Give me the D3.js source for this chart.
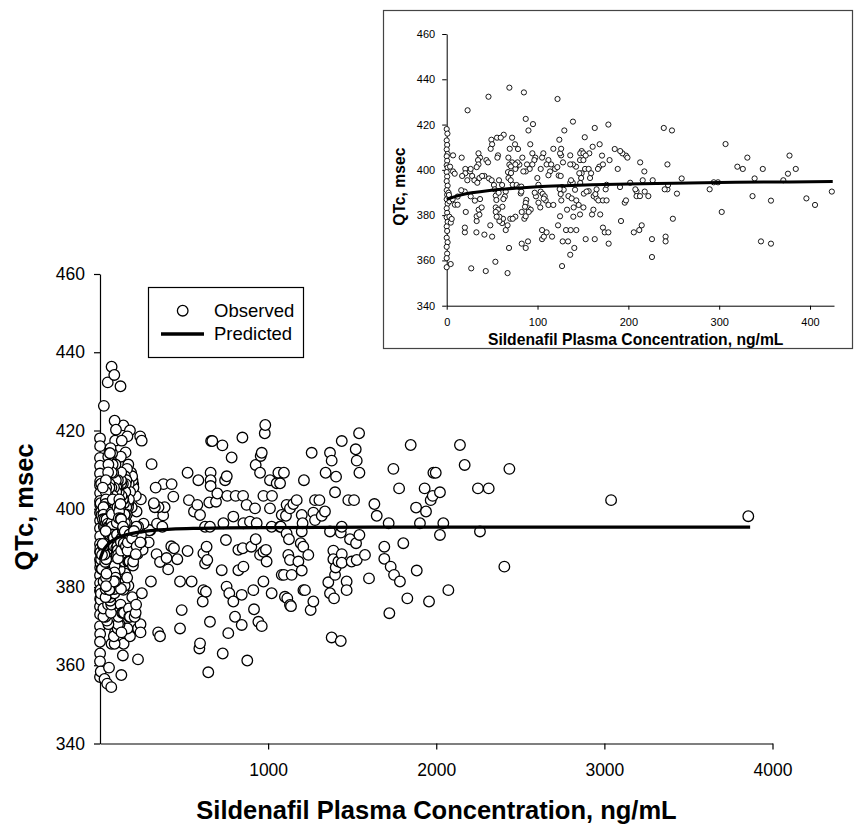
<!DOCTYPE html>
<html>
<head>
<meta charset="utf-8">
<script src="https://cdn.jsdelivr.net/npm/d3@7"></script>
<style>
  html, body { margin: 0; padding: 0; background: #fff; }
  svg { display: block; }
  text { font-family: "Liberation Sans", Arial, Helvetica, sans-serif; fill: #000; }
</style>
</head>
<body>
<svg id="chart" width="854" height="824"></svg>
<script>
// ---------------- DATA ----------------
// Observed QTc (msec) vs sildenafil plasma concentration (ng/mL), concentrations up to ~425
const observedLow = [
  [0,418],[0.8,416],[0,413],[0.5,411],[0,409],[1,407],[0,406],[0.5,404],[0,402],[1,401],
  [0,399],[0.5,397],[0,395],[1,393],[0,391],[0.5,389],[0,387],[1,385],[0,383],[0.5,381],
  [0,379],[1,377],[0,375],[0.5,373],[0,370],[1,368],[0,366],[0.5,363],[0,361],[0,357],
  [2,389.9],[3,386.1],[2.5,388.9],[6.5,387],[4.5,376.7],[3,379.3],[4.4,358.4],[9,384.6],[5.5,378.3],[12,384.6],
  [3.7,401.4],[7,406.4],[7,399.3],[8.8,398.3],
  [23,426.3],[46,432.3],[69,436.3],[85,434.2],[122,431.3],[139,421.3],[87,422.5],[95,420.2],[178,420],[163,418.5],
  [239,418.5],[248,417.4],[90,417.4],[129.5,417.4],
  [27,356.5],[43,355.3],[53.6,359.4],[67,354.4],[127,357.5],[136,362.5],[226,361.5],[140.5,365.5],[68.6,365.5],[87,365.5],
  [89.5,368.4],[82.6,367.4],[133.6,368.4],[178.3,367.4],[226,369.4],[241,370.5],[241,368.4],[346,368.4],[357,367.4],[153,369.4],
  [163,369.4],[116,370.5],[105,369.4],[107,370.5],[105,373.4],[110,372.4],[50,370.5],[41.5,371.4],[32.7,372.4],[20,372.4],
  [20,374.5],[48,375.5],[65,373.4],[67,375.5],[61,376.5],[62,378.4],[58,377.4],[70,378.4],[75.6,379.3],[72.7,378.4],
  [85.5,378.4],[87,379.5],[33,377.4],[33,379.5],[122.6,375.5],[131.4,373.4],[136.5,373.4],[142.7,373.4],[127.7,368.4],[172,374.5],
  [174,372.4],[178,372.4],[191.9,377.4],[206,372.4],[212,373.4],[214.7,375.5],[249,378.4],[302.8,381.4],[160,380.3],[169,380.3],
  [139.4,379.3],[146.8,380.3],[132.5,382.4],[124.8,379.5],[139.8,383.4],[145.3,384.5],[150.5,383.4],[103,383.4],[101,385.5],[109,386.5],
  [112,384.5],[117.4,384.5],[126.2,386.5],[134,388.4],[137.6,387.4],[142.7,386.5],[151,389.5],[156.3,390.6],[161.8,388.4],[165,387.4],
  [167,386.5],[172,386.5],[176,386.5],[175,391.4],[161.5,382.4],[196,385.5],[197.4,386.5],[209,390.5],[207.7,391.4],[209,388.4],
  [222,388.4],[253.5,389.5],[289.5,391.4],[298.7,394.5],[294,394.5],[336.7,388.4],[357,386.4],[396,387.4],[405.5,384.5],[424,390.4],
  [258.7,396.2],[339,396.2],[370.6,395.4],[375.7,398.3],[384.3,400.4],[377.4,406.3],[348,400.4],[326,400.4],[320,401.4],[331,405.4],
  [307,411.4],[243,402.4],[243,391.4],[243.7,393.3],[226.8,395.4],[215.8,395.4],[213,403.3],[217.6,399.3],[197.4,406.3],[199,405.4],
  [193.4,407.3],[188.3,400.4],[185,409.2],[191,408.3],[171,406.3],[179.3,404.3],[168,401.4],[166.5,400.4],[172,402.4],[168.4,411.3],
  [160.7,410.2],[148.6,408.3],[147,407.3],[150.5,407.3],[157,407.3],[153,406.3],[152,414.4],[146.8,404.3],[150.5,404.3],[152.3,400.4],
  [156.3,400.4],[157.8,396.4],[159,398.5],[148.6,398.5],[148,396.4],[142.4,401.4],[146,398.5],[139,402.4],[136,402.4],[136,406.4],
  [126,406.4],[124.8,407.3],[128,403.3],[117.4,409.3],[126,409.3],[124,413.3],[112,404.3],[110,402.4],[106.4,407.3],[105,405.4],
  [97.6,405.4],[96.5,404.3],[94.3,407.3],[88.4,402.4],[94.3,402.4],[92,411.3],[91.4,400.4],[87,399.3],[84.4,399.3],[83.3,405.4],
  [78.5,409.2],[75.2,411.3],[69.4,409.3],[67.9,405.4],[72,403.3],[69,402.3],[70.8,401.5],[76.3,401.2],[75.6,400.4],[80,402.3],
  [78,403.3],[72,414.2],[62.8,415.5],[55.4,414.2],[49.2,413.3],[50,411.3],[48.4,409.3],[43.7,404.3],[45.5,403.3],[56.5,406.4],
  [55.8,405.4],[59.5,414.2],[36.7,405.4],[35,407.3],[34.5,404.3],[35,402.4],[33,401.2],[25.7,399.3],[26.4,400.4],[20.5,400.4],
  [16.5,405.4],[20.5,398.5],[17,397.3],[22.7,395.4],[28,397.3],[30.5,395.4],[36,396.4],[41.5,397.3],[39,397.3],[46.6,396.2],
  [49.5,395.4],[52,393.3],[52.8,391.4],[54,388.6],[54.7,386.7],[57.2,389.9],[57.6,395.4],[61,393.3],[65,390.4],[64,388.2],
  [62.4,387.1],[54,383.4],[56.5,382.4],[54,381.4],[58,379.3],[55,379.3],[61.3,383.7],[68,396.4],[70.5,395.4],[72.7,393.4],
  [77,393.3],[80,392.4],[67.5,399],[70.8,398.6],[75.6,402.4],[81.5,389.6],[82.2,390.4],[82.2,392.6],[87.7,386.7],[87,385.4],
  [90,383],[86.2,383.7],[92.5,382.4],[90.3,381.4],[82.6,381.4],[98.3,388.3],[96.9,389.9],[103.5,390.4],[105.7,389.4],[107.9,388.3],
  [106.8,387.3],[101,393.4],[99.8,396.4],[103.5,400.4],[119.3,400.4],[113.8,399.3],[112,397.6],[115,402.4],[121.8,401.2],[123.3,397.5],
  [125.5,397.3],[127,392.4],[128.8,391.2],[124.4,391.5],[125.5,389.3],[136,394.3],[138.7,394.3],[136.9,395.4],[147,394.2],[141.3,391.2],
  [154,390.4],[163.7,389.3],[165,391.4],[176,393.4],[190.8,392.4],[202,394.3],[218,390.4],[240,391.4],[212.8,388.4],
  [21,381.4],[35.2,382.4],[36,380.2],[38.5,383.4],[31,386.4],[36.7,387.1],[33.7,394.3],[26.4,388.3],[19.8,390.4],[12,388.2],[16,391]
];

// Observed points at higher concentrations (only visible in the main panel)
const observedHigh = [
  [426,406.3],[436,403.1],[440,389.9],[460,387.1],[476,381.4],[486,374.1],[476,369.4],[521,409.2],[529,402.2],[521,389.2],
  [545,381.4],[559,399.3],[579,401.0],[585,407.3],[595,398.4],[591,364.3],[595,365.6],[611,376.3],[615,379.2],[615,388.6],
  [625,386.0],[625,395.4],[630,378.8],[634,390.3],[638,386.9],[644,358.2],[650,401.6],[654,395.4],[654,371.1],[658,409.2],
  [658,407.3],[658,405.8],[661,417.3],[668,417.3],[690,401.8],[698,403.9],[724,384.3],[728,416.2],[730,363.0],[734,396.3],
  [744,407.3],[749,392.0],[753,380.1],[754,408.3],[757,403.3],[763,368.2],[769,378.4],[783,413.1],[793,398.0],[793,376.3],
  [803,372.4],[807,403.3],[823,389.5],[823,384.3],[843,378.0],[843,370.3],[847,418.2],[849,389.9],[851,403.3],[853,396.3],
  [853,385.2],[872,401.0],[876,361.2],[892,396.7],[900,390.3],[912,379.2],[916,374.3],[922,400.1],[926,411.2],[926,392.2],
  [932,396.3],[942,371.1],[952,409.2],[952,388.2],[956,413.5],[962,414.3],[962,370.0],[972,403.3],[972,389.0],[972,381.4],
  [980,419.3],[983,421.4],[987,389.5],[991,386.5],[1011,407.3],[1011,400.1],[1021,395.4],[1021,378.4],[1023,403.3],[1051,406.5],
  [1061,409.2],[1071,406.5],[1071,395.4],[1075,395.4],[1081,398.4],[1081,383.1],[1094,409.2],[1094,383.1],[1100,377.5],[1106,398.2],
  [1110,401.0],[1110,393.7],[1114,377.1],[1120,388.2],[1124,392.2],[1130,400.1],[1130,386.9],[1130,375.4],[1136,375.1],[1140,383.1],
  [1150,401.2],[1170,402.2],[1180,386.5],[1194,391.2],[1200,398.4],[1200,394.2],[1200,384.2],[1205,396.3],[1209,390.3],[1210,379.2],
  [1213,407.3],[1219,379.2],[1239,388.2],[1253,374.1],[1259,414.3],[1269,399],[1269,376.3],[1279,402.2],[1279,397.1],[1305,402.2],
  [1319,398.2],[1338,399.3],[1342,409.2],[1358,381.2],[1368,414.3],[1368,394.2],[1368,378.4],[1378,412.3],[1378,367.1],[1388,389.3],
  [1388,387.1],[1392,377.1],[1398,404.2],[1398,383.1],[1402,385],[1404,408.2],[1418,386.5],[1432,393.9],[1432,366.2],[1438,417.3],
  [1438,395.4],[1438,388.4],[1438,386.2],[1467,381.4],[1467,379.2],[1477,402.2],[1487,392.2],[1497,386.5],[1511,402.2],[1521,415.2],
  [1523,391.2],[1527,412.3],[1527,386.9],[1541,419.3],[1543,409.2],[1543,393.3],[1576,388.2],[1600,382.2],[1632,401.2],[1646,398.2],
  [1691,390.3],[1691,387.2],[1717,396.3],[1721,373.3],[1729,385.2],[1745,410.2],[1749,383.1],[1779,405.2],[1784,381.4],[1804,391.2],
  [1828,377.1],[1848,416.3],[1880,400.3],[1884,384.2],[1903,396.3],[1931,405.2],[1939,399.3],[1957,376.3],[1967,402.2],[1979,403.3],
  [1983,409.2],[1997,409.2],[2022,404.2],[2022,393.3],[2042,396.3],[2072,379.2],[2141,416.3],[2169,411.2],[2248,405.2],[2260,394.2],
  [2312,405.2],[2405,385.2],[2435,410.2],[3040,402.2],[3856,398.1]
];

// Predicted (model) curve
const predConc = [0, 5, 10, 20, 30, 45, 60, 80, 100, 130, 160, 200, 250, 300, 350, 425, 600, 1000, 2000, 3000, 3867];
const predQtc  = [387.0, 387.7, 388.3, 389.3, 390.0, 390.8, 391.4, 392.0, 392.5, 393.0, 393.4, 393.8, 394.1, 394.4, 394.6, 394.8, 395.0, 395.2, 395.3, 395.3, 395.3];

const yTicks = [340, 360, 380, 400, 420, 440, 460];
const xTicksMain = [1000, 2000, 3000, 4000];
const xTicksInset = [0, 100, 200, 300, 400];

const xTitle = "Sildenafil Plasma Concentration, ng/mL";
const yTitle = "QTc, msec";
const legendLabels = ["Observed", "Predicted"];

// ---------------- DRAWING ----------------
const svg = d3.select("#chart");
svg.append("rect").attr("width", 854).attr("height", 824).attr("fill", "#fff");

const allObs = observedLow.concat(observedHigh);
const pred = predConc.map((c, i) => [c, predQtc[i]]);

function styleAxis(g, fontSize) {
  g.select(".domain").attr("stroke", "#000").attr("stroke-width", 1.2);
  g.selectAll(".tick line").attr("stroke", "#000").attr("stroke-width", 1.2);
  g.selectAll(".tick text").attr("font-size", fontSize).attr("fill", "#000")
    .style("font-family", '"Liberation Sans", Arial, sans-serif');
}

// ===== Main panel =====
const mx = d3.scaleLinear().domain([0, 4000]).range([100, 772.5]);
const my = d3.scaleLinear().domain([340, 460]).range([743.5, 274]);

const main = svg.append("g");

const gy = main.append("g").attr("transform", "translate(100,0)")
  .call(d3.axisLeft(my).tickValues(yTicks).tickSize(6).tickPadding(9).tickSizeOuter(0));
styleAxis(gy, 17.5);

const gx = main.append("g").attr("transform", "translate(0,743.5)")
  .call(d3.axisBottom(mx).tickValues(xTicksMain).tickSize(6).tickPadding(14).tickSizeOuter(0).tickFormat(d3.format("d")));
styleAxis(gx, 17.5);

main.append("g").selectAll("circle").data(allObs).join("circle")
  .attr("cx", d => mx(d[0])).attr("cy", d => my(d[1])).attr("r", 5.3)
  .attr("fill", "#fff").attr("stroke", "#000").attr("stroke-width", 1.3);

const lineMain = d3.line().x(d => mx(d[0])).y(d => my(d[1])).curve(d3.curveMonotoneX);
main.append("path").datum(pred).attr("d", lineMain)
  .attr("fill", "none").attr("stroke", "#000").attr("stroke-width", 3.3);

main.append("text").attr("x", 436.5).attr("y", 819).attr("text-anchor", "middle")
  .attr("font-size", 25.5).attr("font-weight", "bold").text(xTitle);
main.append("text").attr("transform", "translate(33,507) rotate(-90)").attr("text-anchor", "middle")
  .attr("font-size", 25.5).attr("font-weight", "bold").text(yTitle);

// Legend
const lg = main.append("g");
lg.append("rect").attr("x", 148.5).attr("y", 287.5).attr("width", 155).attr("height", 70)
  .attr("fill", "#fff").attr("stroke", "#000").attr("stroke-width", 1.2);
lg.append("circle").attr("cx", 182.7).attr("cy", 310.7).attr("r", 5.3)
  .attr("fill", "#fff").attr("stroke", "#000").attr("stroke-width", 1.3);
lg.append("line").attr("x1", 161).attr("x2", 204).attr("y1", 334).attr("y2", 334)
  .attr("stroke", "#000").attr("stroke-width", 3.3);
lg.append("text").attr("x", 214).attr("y", 317.3).attr("font-size", 18.5).text(legendLabels[0]);
lg.append("text").attr("x", 214).attr("y", 340.3).attr("font-size", 18.5).text(legendLabels[1]);

// ===== Inset panel =====
const inset = svg.append("g");
inset.append("rect").attr("x", 383.5).attr("y", 10.5).attr("width", 469).attr("height", 338)
  .attr("fill", "#fff").attr("stroke", "#444").attr("stroke-width", 1.2);

const ixMax = 426.4;
const ix = d3.scaleLinear().domain([0, ixMax]).range([446.7, 834]);
const iy = d3.scaleLinear().domain([340, 460]).range([305.7, 34]);

const iyAxis = inset.append("g").attr("transform", "translate(446.7,0)")
  .call(d3.axisLeft(iy).tickValues(yTicks).tickSize(4.5).tickPadding(7).tickSizeOuter(0));
styleAxis(iyAxis, 11);
iyAxis.select(".domain").attr("stroke-width", 1);
iyAxis.selectAll(".tick line").attr("stroke-width", 1);

const ixAxis = inset.append("g").attr("transform", "translate(0,305.7)")
  .call(d3.axisBottom(ix).tickValues(xTicksInset).tickSize(4).tickPadding(8.5).tickSizeOuter(0));
styleAxis(ixAxis, 11);
ixAxis.select(".domain").attr("stroke-width", 1);
ixAxis.selectAll(".tick line").attr("stroke-width", 1);

inset.append("g").selectAll("circle").data(observedLow.filter(d => d[0] <= ixMax)).join("circle")
  .attr("cx", d => ix(d[0])).attr("cy", d => iy(d[1])).attr("r", 2.6)
  .attr("fill", "#fff").attr("stroke", "#000").attr("stroke-width", 0.9);

const lineInset = d3.line().x(d => ix(d[0])).y(d => iy(d[1])).curve(d3.curveMonotoneX);
inset.append("path").datum(pred.filter(d => d[0] <= ixMax)).attr("d", lineInset)
  .attr("fill", "none").attr("stroke", "#000").attr("stroke-width", 3);

inset.append("text").attr("x", 635.7).attr("y", 345).attr("text-anchor", "middle")
  .attr("font-size", 15.7).attr("font-weight", "bold").text(xTitle);
inset.append("text").attr("transform", "translate(405,186.7) rotate(-90)").attr("text-anchor", "middle")
  .attr("font-size", 15.7).attr("font-weight", "bold").text(yTitle);
</script>
</body>
</html>
